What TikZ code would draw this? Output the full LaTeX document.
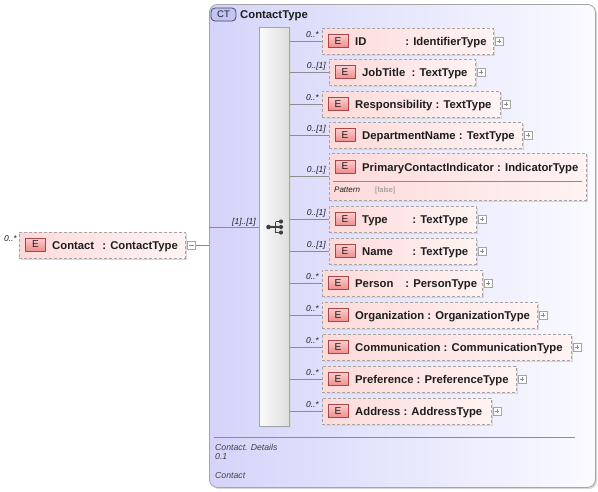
\documentclass[tikz,border=0pt]{standalone}
\usepackage{fontspec}
\setmainfont{Liberation Sans}
\definecolor{lineg}{RGB}{140,140,140}
\definecolor{boxb}{RGB}{165,165,165}
\definecolor{txt}{RGB}{30,30,30}
\definecolor{pinkL}{RGB}{253,218,218}
\definecolor{pinkR}{RGB}{255,243,243}
\definecolor{ctL}{RGB}{212,212,250}
\definecolor{ctR}{RGB}{250,250,255}
\definecolor{shad}{RGB}{215,215,215}
\definecolor{eT}{RGB}{252,205,205}
\definecolor{eB}{RGB}{240,140,140}
\definecolor{eD}{RGB}{170,70,70}
\tikzset{
  elembox/.style={draw=boxb, dash pattern=on 3pt off 2pt, line width=0.8pt, left color=pinkL, right color=pinkR, inner sep=0pt, anchor=north west},
  eicon/.style={draw=eD, line width=0.7pt, top color=eT, bottom color=eB, minimum width=20pt, minimum height=13pt, inner sep=0pt, text=txt, font=\fontsize{10}{10}\selectfont},
  nm/.style={font=\bfseries\fontsize{11.3}{12}\selectfont, text=txt, anchor=base west, inner sep=0pt},
  mult/.style={font=\itshape\fontsize{8.5}{9}\selectfont, anchor=base east, inner sep=0pt, text=txt},
  conn/.style={draw=lineg, line width=0.7pt},
  expd/.style={draw=boxb, fill=white, minimum size=8pt, inner sep=0pt, line width=0.6pt},
  foot/.style={font=\itshape\fontsize{8.7}{9}\selectfont, anchor=base west, inner sep=0pt, text=txt!85},
}
% #1 id, #2 left, #3 right, #4 line y, #5 mult, #6 name, #7 type
\newcommand\child[7]{%
  \fill[shad] (#2+2,#4-11) rectangle (#3+2,#4+15);
  \node[elembox, minimum width={(#3-#2)}, minimum height=26] (#1) at (#2,#4-13) {};
  \node[eicon] (#1e) at (#2+16,#4) {E};
  \node[nm] (#1t) at (#2+33,#4+4) {#6\ : #7};
  \node[expd] (#1x) at (#3+6,#4) {};
  \draw[lineg, line width=0.6pt] ([xshift=2pt]#1x.west) -- ([xshift=-2pt]#1x.east) ([yshift=2pt]#1x.south) -- ([yshift=-2pt]#1x.north);
  \draw[conn] (seq.east |- #1.west) -- (#1.west);
  \node[mult] at (#2-3,#4-4) {#5};
}
\newcommand\pad[1]{\makebox[47pt][l]{#1}}
\begin{document}
\begin{tikzpicture}[x=1pt,y=-1pt]
\useasboundingbox (0,0) rectangle (598,491);
\fill[white] (0,0) rectangle (598,491);
% outer complex type box
\fill[shad, rounded corners=8pt] (211,6) rectangle (597,489);
\node[draw=boxb, line width=0.8pt, rounded corners=8pt, left color=ctL, right color=ctR, minimum width=386, minimum height=483, anchor=north west, inner sep=0pt] (ct) at (209,4) {};
\node[draw={rgb,255:red,70;green,70;blue,110}, line width=0.8pt, rounded corners=4pt, fill={rgb,255:red,196;green,196;blue,242}, minimum width=25, minimum height=13, inner sep=0pt, font=\fontsize{9.5}{10}\selectfont, text=txt] (ctb) at (223.5,14.5) {CT};
\node[nm] (ctn) at (240,18) {ContactType};
% sequence bar
\fill[shad] (261,29) rectangle (291,428);
\node[draw=boxb, line width=0.8pt, left color={rgb,255:red,250;green,250;blue,250}, right color={rgb,255:red,222;green,222;blue,222}, minimum width=30, minimum height=399, anchor=north west, inner sep=0pt] (seq) at (259,27) {};
% sequence icon
\begin{scope}[txt!85]
\fill (268.5,227) circle (2.3);
\draw[line width=1.1pt] (268.5,227) -- (275.5,227) (275.5,221.5) -- (275.5,232.5) (275.5,221.5) -- (280,221.5) (275.5,232.5) -- (280,232.5) (275.5,227) -- (280,227);
\fill (281,221.5) circle (2.1) (281,227) circle (2.1) (281,232.5) circle (2.1);
\end{scope}
% main element
\fill[shad] (21,234) rectangle (187,260);
\node[elembox, minimum width=166, minimum height=26] (contact) at (19,232) {};
\node[eicon] (contacte) at (35.5,244.5) {E};
\node[nm] (contactt) at (52,249) {\pad{Contact}\ : ContactType};
\node[expd] (contactx) at (191.5,245) {};
\draw[lineg, line width=0.6pt] ([xshift=2pt]contactx.west) -- ([xshift=-2pt]contactx.east);
\node[mult] at (17,241) {0..*};
\draw[conn] (contactx.east) -- (contactx.east -| ct.west);
\draw[conn] (ct.west |- 0,227.5) coordinate (sin) -- (seq.west |- sin);
\node[mult] at (256,224) {[1]..[1]};
% children
\child{id}{322}{493}{41}{0..*}{\pad{ID}}{IdentifierType}
\child{jobtitle}{329}{475}{72}{0..[1]}{JobTitle\ }{TextType}
\child{resp}{322}{500}{104}{0..*}{Responsibility}{TextType}
\child{dept}{329}{522}{135}{0..[1]}{DepartmentName}{TextType}
% primary contact indicator (with facet)
\fill[shad] (331,155) rectangle (588,202);
\node[elembox, minimum width=257, minimum height=47] (pci) at (329,153) {};
\node[eicon] (pcie) at (345,166.5) {E};
\node[nm] (pcit) at (362,171) {PrimaryContactIndicator\ : IndicatorType};
\draw[lineg, line width=0.7pt] (333,181.5) -- (582,181.5);
\node[font=\itshape\fontsize{8}{9}\selectfont, anchor=base west, inner sep=0pt, text=txt] (pcip) at (334,192) {Pattern};
\node[font=\fontsize{7.5}{9}\selectfont, anchor=base west, inner sep=0pt, text=black!45] (pcif) at (375,192) {[false]};
\draw[conn] (seq.east |- 0,176) coordinate (pcil) -- (pci.west |- pcil);
\node[mult] at (326,172) {0..[1]};
\child{type}{329}{476}{219}{0..[1]}{\pad{Type}}{TextType}
\child{name}{329}{476}{251}{0..[1]}{\pad{Name}}{TextType}
\child{person}{322}{482}{283}{0..*}{\pad{Person}}{PersonType}
\child{org}{322}{537}{315}{0..*}{Organization}{OrganizationType}
\child{comm}{322}{571}{347}{0..*}{Communication}{CommunicationType}
\child{pref}{322}{516}{379}{0..*}{Preference}{PreferenceType}
\child{addr}{322}{491}{411}{0..*}{Address}{AddressType}
% footer
\draw[lineg, line width=0.7pt] (214,437) -- (575,437);
\node[foot] (f1) at (215,450) {Contact. Details};
\node[foot] (f2) at (215,459) {0.1};
\node[foot] (f3) at (215,478) {Contact};
\end{tikzpicture}
\end{document}
